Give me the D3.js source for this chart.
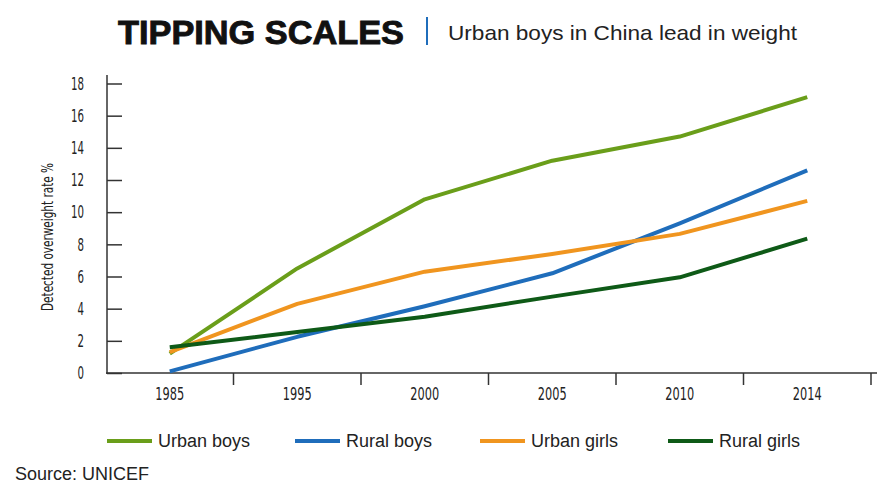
<!DOCTYPE html>
<html>
<head>
<meta charset="utf-8">
<script src="https://cdn.jsdelivr.net/npm/d3@7"></script>
<style>
  html, body { margin: 0; padding: 0; background: #fff; }
  svg { display: block; }
</style>
</head>
<body>
<div id="chart"></div>
<script>
// data
const years = ["1985", "1995", "2000", "2005", "2010", "2014"];
const urbanBoys = [1.2, 6.5, 10.8, 13.2, 14.7, 17.15];
const ruralBoys = [0.1, 2.25, 4.15, 6.2, 9.3, 12.6];
const urbanGirls = [1.3, 4.3, 6.3, 7.4, 8.65, 10.7];
const ruralGirls = [1.6, 2.55, 3.5, 4.75, 5.95, 8.35];
const yTicks = [0, 2, 4, 6, 8, 10, 12, 14, 16, 18];

const series = [
    { name: "Urban boys", values: urbanBoys, color: "#6a9e1a" },
    { name: "Rural boys", values: ruralBoys, color: "#1f6dbb" },
    { name: "Urban girls", values: urbanGirls, color: "#f0951f" },
    { name: "Rural girls", values: ruralGirls, color: "#0e5a17" }
];

const width = 890, height = 491;
const narrow = "'Liberation Sans Narrow', 'DejaVu Sans Condensed', sans-serif";

const svg = d3.select("#chart").append("svg")
    .attr("width", width)
    .attr("height", height);

// header
svg.append("text")
    .attr("x", 118).attr("y", 44)
    .attr("font-family", "'Liberation Sans', Arial, sans-serif")
    .attr("font-weight", 700)
    .attr("font-size", 33)
    .attr("fill", "#111")
    .attr("stroke", "#111").attr("stroke-width", 0.9)
    .attr("textLength", 286).attr("lengthAdjust", "spacingAndGlyphs")
    .text("TIPPING SCALES");

svg.append("line")
    .attr("x1", 427).attr("x2", 427).attr("y1", 17).attr("y2", 45)
    .attr("stroke", "#1f6dbb").attr("stroke-width", 2);

svg.append("text")
    .attr("x", 448).attr("y", 40)
    .attr("font-family", "'Liberation Sans', Arial, sans-serif")
    .attr("font-size", 21)
    .attr("fill", "#222")
    .attr("textLength", 349).attr("lengthAdjust", "spacingAndGlyphs")
    .text("Urban boys in China lead in weight");

// scales
const x = d3.scaleBand().domain(years).range([106, 871]).padding(0);
const y = d3.scaleLinear().domain([0, 18]).range([373, 83.5]);

// y axis
const yAxis = svg.append("g")
    .attr("transform", "translate(107,0)")
    .call(d3.axisLeft(y).tickValues(yTicks).tickSize(-15).tickPadding(23));
yAxis.select(".domain").remove();
yAxis.selectAll(".tick line").attr("stroke", "#333").attr("stroke-width", 1.5);
yAxis.selectAll(".tick text")
    .attr("font-family", narrow).attr("font-size", 18).attr("fill", "#222")
    .attr("textLength", d => String(d).length * 6.5)
    .attr("lengthAdjust", "spacingAndGlyphs");

svg.append("line")
    .attr("x1", 107).attr("x2", 107).attr("y1", 75).attr("y2", 374)
    .attr("stroke", "#333").attr("stroke-width", 1.5);

svg.append("text")
    .attr("transform", "translate(53,237) rotate(-90)")
    .attr("text-anchor", "middle")
    .attr("font-family", narrow).attr("font-size", 15).attr("fill", "#222")
    .attr("textLength", 148).attr("lengthAdjust", "spacingAndGlyphs")
    .text("Detected overweight rate %");

// x axis
const xAxis = svg.append("g")
    .attr("transform", "translate(0,373)")
    .call(d3.axisBottom(x).tickSize(0).tickPadding(14));
xAxis.select(".domain").remove();
xAxis.selectAll(".tick text")
    .attr("font-family", narrow).attr("font-size", 18).attr("fill", "#222")
    .attr("textLength", d => d.length * 7.2)
    .attr("lengthAdjust", "spacingAndGlyphs");

svg.append("line")
    .attr("x1", 106).attr("x2", 877).attr("y1", 373).attr("y2", 373)
    .attr("stroke", "#333").attr("stroke-width", 1.5);

svg.append("g").selectAll("line")
    .data(years)
    .join("line")
    .attr("x1", d => x(d) + x.bandwidth())
    .attr("x2", d => x(d) + x.bandwidth())
    .attr("y1", 373).attr("y2", 385)
    .attr("stroke", "#333").attr("stroke-width", 1.5);

// lines
const line = d3.line()
    .x((d, i) => x(years[i]) + x.bandwidth() / 2)
    .y(d => y(d));

svg.append("g")
    .attr("fill", "none")
    .attr("stroke-width", 4)
    .attr("stroke-linejoin", "round")
    .selectAll("path")
    .data(series)
    .join("path")
    .attr("stroke", d => d.color)
    .attr("d", d => line(d.values));

// legend
const legendX = [107, 295, 480, 668];
const legend = svg.append("g")
    .selectAll("g")
    .data(series)
    .join("g")
    .attr("transform", (d, i) => `translate(${legendX[i]},441)`);

legend.append("line")
    .attr("x1", 0).attr("x2", 45)
    .attr("stroke", d => d.color).attr("stroke-width", 4);

legend.append("text")
    .attr("x", 51).attr("dy", "0.35em")
    .attr("font-family", "'Liberation Sans', Arial, sans-serif")
    .attr("font-size", 18).attr("fill", "#222")
    .text(d => d.name);

svg.append("text")
    .attr("x", 15).attr("y", 480)
    .attr("font-family", "'Liberation Sans', Arial, sans-serif")
    .attr("font-size", 18).attr("fill", "#222")
    .text("Source: UNICEF");
</script>
</body>
</html>
